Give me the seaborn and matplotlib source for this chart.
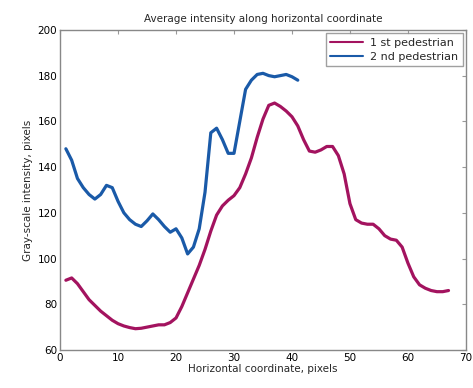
import numpy as np
import pandas as pd
import matplotlib
matplotlib.use("Agg")
import matplotlib.pyplot as plt
import seaborn as sns

x1 = list(range(1, 68))
ped1 = [90.5, 91.5, 89, 85.5, 82, 79.5, 77, 75, 73, 71.5,
        70.5, 69.8, 69.3, 69.5, 70, 70.5, 71, 71, 72, 74,
        79, 85, 91, 97, 104, 112, 119, 123, 125.5, 127.5,
        131, 137, 144, 153, 161, 167, 168, 166.5, 164.5, 162,
        158, 152, 147, 146.5, 147.5, 149, 149, 145, 137, 124,
        117, 115.5, 115, 115, 113, 110, 108.5, 108, 105, 98,
        92, 88.5, 87, 86, 85.5, 85.5, 86]
x2 = list(range(1, 42))
ped2 = [148, 143, 135, 131, 128, 126, 128, 132, 131, 125,
        120, 117, 115, 114, 116.5, 119.5, 117, 114, 111.5, 113,
        109, 102, 105, 113, 129, 155, 157, 152, 146, 146,
        160, 174, 178, 180.5, 181, 180, 179.5, 180, 180.5, 179.5, 178]
labels = ["1 st pedestrian", "2 nd pedestrian"]
colors = ["#a3135f", "#1a5aa8"]
xticks = [0, 10, 20, 30, 40, 50, 60, 70]
yticks = [60, 80, 100, 120, 140, 160, 180, 200]

df = pd.concat([
    pd.DataFrame({"x": x1, "y": ped1, "series": labels[0]}),
    pd.DataFrame({"x": x2, "y": ped2, "series": labels[1]}),
])

sns.set_style("white")
plt.rcParams["font.family"] = ["DejaVu Sans"]
fig = plt.figure(figsize=(4.73, 3.88), dpi=100)
ax = fig.add_axes([0.127, 0.098, 0.858, 0.825])
sns.lineplot(data=df, x="x", y="y", hue="series", palette=colors,
             linewidth=2.3, ax=ax, legend=True)
ax.set_xlim(0, 70)
ax.set_ylim(60, 200)
ax.set_xticks(xticks)
ax.set_yticks(yticks)
ax.tick_params(direction="in", length=3, width=0.8, colors="#999999",
               labelcolor="black", labelsize=7.5, top=True, right=True, pad=2)
for s in ax.spines.values():
    s.set_color("#888888")
    s.set_linewidth(1.0)
ax.set_title("Average intensity along horizontal coordinate", fontsize=7.5, pad=6)
ax.set_xlabel("Horizontal coordinate, pixels", fontsize=7.5, labelpad=1)
ax.set_ylabel("Gray-scale intensity, pixels", fontsize=7.5, labelpad=3)
leg = ax.legend(loc="upper right", fontsize=8, frameon=True, fancybox=False,
                borderaxespad=0.3, handlelength=3.0, labelspacing=0.35,
                borderpad=0.4, handletextpad=0.6)
leg.get_frame().set_edgecolor("#888888")
leg.get_frame().set_linewidth(1.0)
for line in leg.get_lines():
    line.set_linewidth(1.5)
fig.savefig("out.png", dpi=100)
